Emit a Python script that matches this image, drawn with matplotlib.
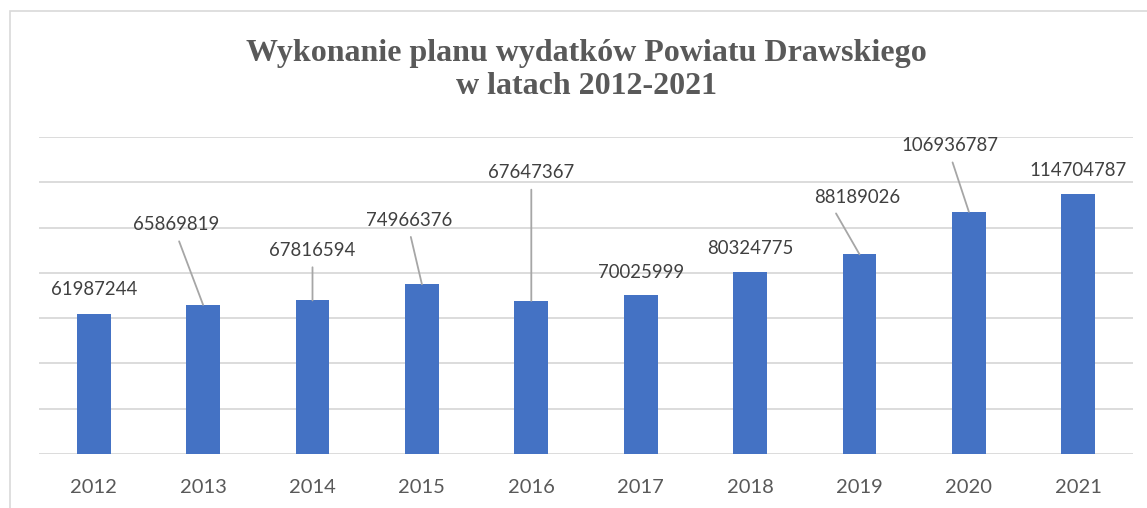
import matplotlib.pyplot as plt
from matplotlib.patches import Rectangle

lata = ["2012", "2013", "2014", "2015", "2016", "2017", "2018", "2019", "2020", "2021"]
wydatki = [61987244, 65869819, 67816594, 74966376, 67647367, 70025999,
           80324775, 88189026, 106936787, 114704787]

# przesuniecia etykiet (piksele) i czy jest linia odniesienia
label_dx = [0, -27, 0, -13, 0, 0, 0, -2, -19, 0]
label_dy = [24, 80, 50, 64, 128, 23, 24, 57, 66, 24]
leader = [False, True, True, True, True, False, False, True, True, False]
leader_x = [0.5, 0.5, 0.5, 0.5, 0.5, 0.5, 0.5, 0.2, 0.5, 0.5]

fig = plt.figure(figsize=(11.47, 5.08), dpi=100)
ax = fig.add_axes([0.034, 0.1063, 0.9538, 0.624])

# ramka wykresu
fig.patches.append(Rectangle((10 / 1147, -0.05), 1.2, (508 - 11) / 508 + 0.05,
                             transform=fig.transFigure, fill=False,
                             edgecolor="#d9d9d9", linewidth=1.2))

x = list(range(len(lata)))
ax.bar(x, wydatki, width=0.31, color="#4472C4", zorder=3)

ax.set_xlim(-0.5, len(lata) - 0.5)
ax.set_ylim(0, 140000000)
ax.set_yticks(range(0, 140000001, 20000000))
ax.yaxis.grid(True, color="#d9d9d9", linewidth=1.3, zorder=0)
ax.tick_params(axis="y", left=False, labelleft=False)
ax.tick_params(axis="x", length=0, pad=18, labelsize=14.5, labelcolor="#595959")
ax.set_xticks(x)
ax.set_xticklabels(lata, fontfamily="Lato")
for s in ax.spines.values():
    s.set_visible(False)

for i in range(len(lata)):
    props = None
    if leader[i]:
        props = dict(arrowstyle="-", color="#a6a6a6", linewidth=1.3,
                     relpos=(leader_x[i], 0), shrinkA=4, shrinkB=0)
    ax.annotate(str(wydatki[i]), xy=(x[i], wydatki[i]),
                xytext=(label_dx[i], label_dy[i]), textcoords="offset pixels",
                ha="center", va="center", fontsize=13.4, color="#404040",
                fontfamily="Lato", arrowprops=props, zorder=4)

fig.text(0.511, 0.862, "Wykonanie planu wydatków Powiatu Drawskiego\nw latach 2012-2021",
         ha="center", va="center", fontsize=23, fontweight="bold",
         fontfamily="Liberation Serif", color="#595959", linespacing=1.2)

fig.savefig("out.png", dpi=100)
